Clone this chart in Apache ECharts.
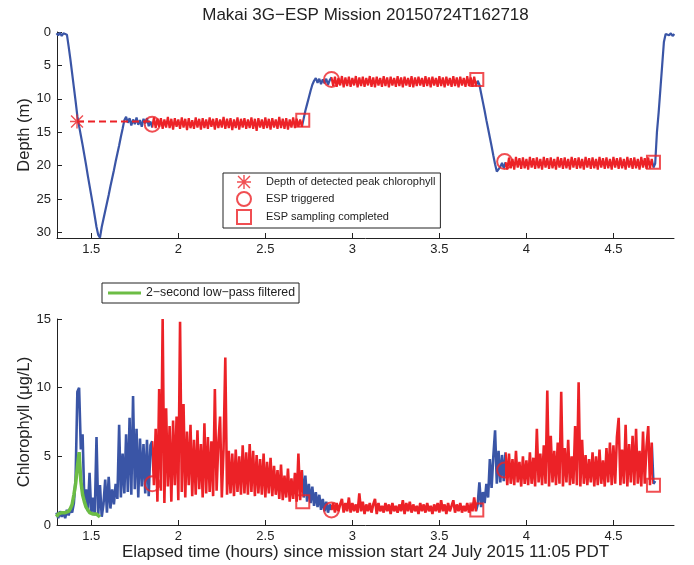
<!DOCTYPE html>
<html>
<head>
<meta charset="utf-8">
<script src="https://cdn.jsdelivr.net/npm/echarts@6/dist/echarts.min.js"></script>
<style>
  html, body { margin: 0; padding: 0; background: #fff; }
  #main { width: 694px; height: 565px; }
</style>
</head>
<body>
<div id="main"></div>
<script>
// sampling grid (hours since mission start)
const sampleStart = 1.30;
const sampleStep = 0.01;

// depth (m), one value per sample, rows of 0.1 h
const depthValues = [
  0.2, 0.5, 0.1, 0.6, 0.2, 0.4, 0.4, 2.2, 4.1, 6.2,          // 1.30
  8.3, 10.4, 12.6, 14.1, 15.5, 16.9, 18.4, 19.9, 21.5, 23.0, // 1.40
  24.5, 26.0, 27.6, 29.2, 30.4, 30.8, 29.2, 28.0, 26.8, 25.6, // 1.50
  24.4, 23.1, 21.9, 20.7, 19.4, 18.2, 17.0, 15.7, 14.5, 13.2, // 1.60
  12.7, 13.6, 12.9, 14.0, 13.1, 13.8, 12.8, 13.9, 13.2, 14.2, // 1.70
  13.0, 13.7, 12.9, 14.1, 13.4, 14.3, 12.8, 14.4, 13.0, 14.2, // 1.80
  12.9, 14.5, 13.1, 14.3, 12.7, 14.4, 13.0, 14.6, 12.9, 14.2, // 1.90
  13.1, 14.5, 12.8, 14.3, 13.0, 14.7, 12.9, 14.4, 13.2, 14.5, // 2.00
  12.8, 14.3, 13.0, 14.6, 12.9, 14.4, 13.1, 14.5, 12.8, 14.2, // 2.10
  13.0, 14.6, 12.9, 14.4, 13.1, 14.3, 12.7, 14.5, 13.0, 14.4, // 2.20
  12.9, 14.7, 13.1, 14.4, 12.8, 14.6, 13.0, 14.3, 12.9, 14.5, // 2.30
  13.1, 14.4, 12.8, 14.5, 13.0, 14.8, 12.9, 14.3, 13.1, 14.5, // 2.40
  12.8, 14.4, 13.0, 14.6, 12.9, 14.3, 13.1, 14.5, 12.7, 14.4, // 2.50
  13.0, 14.5, 12.9, 14.6, 13.1, 14.3, 12.8, 14.4, 13.0, 14.2, // 2.60
  13.1, 14.2, 13.0, 11.8, 10.8, 9.8, 8.8, 7.9, 7.3, 6.9,      // 2.70
  7.6, 7.0, 7.8, 7.1, 7.7, 7.0, 7.9, 7.2, 6.8, 8.1,          // 2.80
  6.7, 8.2, 6.9, 8.0, 6.6, 8.3, 6.8, 8.1, 6.7, 8.2,          // 2.90
  6.9, 8.0, 6.6, 8.3, 6.8, 8.1, 6.7, 8.2, 6.9, 8.0,          // 3.00
  6.6, 8.2, 6.8, 8.3, 6.7, 8.0, 6.9, 8.2, 6.6, 8.1,          // 3.10
  6.8, 8.3, 6.7, 8.0, 6.9, 8.2, 6.6, 8.1, 6.8, 8.3,          // 3.20
  6.7, 8.0, 6.9, 8.2, 6.6, 8.3, 6.8, 8.1, 6.7, 8.0,          // 3.30
  6.9, 8.2, 6.6, 8.1, 6.8, 8.3, 6.7, 8.0, 6.9, 8.2,          // 3.40
  6.6, 8.1, 6.8, 8.3, 6.7, 8.0, 6.9, 8.2, 6.6, 8.1,          // 3.50
  6.8, 8.3, 6.7, 8.0, 6.9, 8.2, 6.6, 8.1, 6.8, 8.2,          // 3.60
  6.7, 8.1, 7.3, 7.9, 9.2, 10.5, 11.8, 13.2, 14.5, 15.8,     // 3.70
  17.1, 18.5, 19.8, 20.9, 21.1, 20.2, 19.6, 20.4, 19.5, 20.6, // 3.80
  18.8, 20.4, 19.0, 20.6, 18.7, 20.3, 18.9, 20.5, 18.8, 20.4, // 3.90
  19.0, 20.6, 18.7, 20.3, 18.9, 20.5, 18.8, 20.4, 19.0, 20.6, // 4.00
  18.7, 20.3, 18.9, 20.5, 18.8, 20.4, 19.0, 20.6, 18.7, 20.3, // 4.10
  18.9, 20.5, 18.8, 20.4, 19.0, 20.6, 18.7, 20.3, 18.9, 20.5, // 4.20
  18.8, 20.4, 19.0, 20.6, 18.7, 20.3, 18.9, 20.5, 18.8, 20.4, // 4.30
  19.0, 20.6, 18.7, 20.3, 18.9, 20.5, 18.8, 20.4, 19.0, 20.6, // 4.40
  18.7, 20.3, 18.9, 20.5, 18.8, 20.4, 19.0, 20.6, 18.7, 20.3, // 4.50
  18.9, 20.5, 18.8, 20.4, 19.0, 20.6, 18.7, 20.3, 18.9, 20.5, // 4.60
  18.8, 20.4, 19.0, 20.3, 19.7, 15.0, 12.0, 8.5, 5.0, 1.5,   // 4.70
  0.3, 0.1, 0.5, 0.2, 0.6, 0.3                               // 4.80
];

// chlorophyll (ug/L), one value per sample
const chlValues = [
  0.9, 0.5, 1.0, 0.6, 0.9, 0.5, 1.1, 0.7, 1.2, 0.9,   // 1.30
  1.6, 3.4, 9.7, 10.0, 5.5, 6.6, 1.8, 2.6, 1.0, 3.8,  // 1.40
  0.8, 2.0, 0.7, 6.4, 0.8, 2.9, 0.6, 1.5, 3.3, 0.9,   // 1.50
  3.5, 1.2, 2.6, 1.5, 3.0, 1.9, 7.3, 2.0, 5.2, 2.3,   // 1.60
  6.6, 2.4, 7.8, 2.2, 9.4, 2.6, 7.0, 2.0, 6.3, 2.8,   // 1.70
  5.9, 2.3, 6.2, 2.1, 5.8, 6.1, 2.9, 7.0, 1.7, 9.9,   // 1.80
  2.5, 15.0, 1.6, 8.5, 2.8, 7.2, 1.7, 7.6, 2.9, 7.9,  // 1.90
  1.8, 14.8, 2.4, 8.8, 2.0, 6.8, 2.9, 7.3, 2.1, 6.2,  // 2.00
  2.2, 6.9, 2.6, 5.9, 2.0, 7.4, 2.3, 6.4, 2.4, 6.1,   // 2.10
  2.1, 9.9, 2.5, 6.0, 7.9, 2.0, 5.6, 12.2, 2.2, 5.4,  // 2.20
  2.3, 5.2, 2.1, 5.5, 2.4, 5.0, 2.2, 5.8, 2.3, 5.3,   // 2.30
  2.2, 5.9, 2.4, 5.4, 2.1, 5.1, 2.3, 4.8, 2.2, 5.2,   // 2.40
  2.0, 4.6, 2.3, 4.9, 2.1, 4.3, 2.2, 4.0, 1.9, 4.4,   // 2.50
  1.8, 3.6, 2.0, 4.1, 1.7, 3.4, 1.9, 3.8, 1.7, 5.2,   // 2.60
  1.8, 4.0, 2.0, 3.6, 1.7, 3.0, 1.6, 2.8, 1.4, 2.4,   // 2.70
  1.3, 2.2, 1.1, 1.9, 1.0, 1.7, 0.9, 1.5, 1.1, 1.6,   // 2.80
  0.9, 1.6, 1.0, 1.5, 1.9, 0.9, 1.6, 1.0, 2.0, 0.9,   // 2.90
  1.6, 1.0, 1.5, 0.9, 2.3, 1.0, 1.7, 0.8, 1.5, 1.0,   // 3.00
  1.6, 0.9, 1.5, 1.9, 0.8, 1.6, 1.0, 1.4, 0.9, 1.6,   // 3.10
  1.0, 1.5, 0.8, 1.6, 1.0, 1.4, 0.9, 1.5, 1.0, 1.8,   // 3.20
  0.8, 1.6, 1.0, 1.7, 0.9, 1.5, 1.0, 1.4, 0.8, 1.6,   // 3.30
  1.0, 1.5, 0.9, 1.6, 1.0, 1.4, 0.8, 1.5, 1.0, 1.6,   // 3.40
  0.9, 1.8, 1.0, 1.5, 0.8, 1.6, 1.0, 1.4, 1.8, 0.9,   // 3.50
  1.5, 1.0, 1.6, 0.9, 1.4, 1.0, 1.6, 0.9, 1.5, 1.0,   // 3.60
  2.0, 1.0, 1.5, 3.1, 1.3, 2.4, 1.6, 3.0, 2.0, 4.8,   // 3.70
  2.7, 5.0, 6.9, 3.0, 5.4, 3.1, 5.1, 3.2, 5.3, 2.9,   // 3.80
  5.2, 3.0, 4.8, 2.9, 5.4, 3.1, 4.6, 2.8, 5.0, 3.0,   // 3.90
  4.7, 2.9, 5.3, 3.0, 4.9, 2.8, 7.0, 3.1, 5.2, 2.9,   // 4.00
  5.8, 3.0, 9.8, 2.8, 6.5, 3.1, 5.4, 2.9, 6.0, 3.0,   // 4.10
  9.7, 2.8, 5.6, 3.1, 6.2, 2.9, 5.0, 3.0, 7.2, 2.9,   // 4.20
  10.4, 2.8, 6.2, 3.0, 5.1, 2.9, 4.8, 3.1, 5.3, 2.8,  // 4.30
  5.0, 2.9, 5.5, 3.0, 4.7, 2.8, 5.6, 3.1, 6.0, 2.9,   // 4.40
  5.8, 3.0, 6.4, 7.8, 2.9, 5.5, 3.0, 7.3, 2.8, 5.9,   // 4.50
  3.1, 6.5, 2.9, 7.0, 3.0, 5.4, 2.8, 6.8, 3.0, 5.7,   // 4.60
  7.2, 2.9, 6.0, 3.0, 3.2                             // 4.70
];

// 2-second low-pass filtered chlorophyll, 1.30 .. 1.55
const filteredValues = [
  0.6, 0.8, 0.7, 0.9, 0.8, 0.9, 1.0, 1.0, 1.2, 1.5,
  2.2, 3.0, 4.2, 5.3, 3.2, 2.2, 1.7, 1.3, 1.1, 0.9,
  0.9, 0.8, 0.7, 0.8, 0.7, 0.6
];

// events
const peakTime = 1.418;
const peakDepth = 13.4;
const triggerTimes = [1.85, 2.88, 3.875];
const triggerDepths = [13.8, 7.1, 19.4];
const triggerChl = [3.0, 1.1, 4.0];
const completeTimes = [2.715, 3.715, 4.73];
const completeDepths = [13.2, 7.1, 19.5];
const completeChl = [1.7, 1.1, 2.9];

// axes
const timeTicks = [1.5, 2, 2.5, 3, 3.5, 4, 4.5];
const depthTicks = [0, 5, 10, 15, 20, 25, 30];
const chlTicks = [0, 5, 10, 15];

const BLUE = "#3a55a6";
const RED = "#ec2227";
const GREEN = "#6cbd45";
const INK = "#222";
const FONT = "'Liberation Sans', Arial, Helvetica, sans-serif";

const toSeries = (vals) =>
   vals.map((v, i) => [+(sampleStart + i * sampleStep).toFixed(2), v]);

const asterisk =
   "path://M45 0L55 0L55 100L45 100Z M0 45L100 45L100 55L0 55Z " +
   "M11 4L96 89L89 96L4 11Z M89 4L96 11L11 96L4 89Z";

const pieces = triggerTimes.map((t, i) => ({
   gte: t,
   lte: completeTimes[i],
   color: RED,
}));

const timeAxis = (extra) =>
   Object.assign(
      {
         type: "value",
         position: "bottom",
         min: 1.303,
         max: 4.848,
         axisLine: { show: true, onZero: false, lineStyle: { color: INK, width: 1 } },
         axisTick: { show: true, inside: true, length: 5, customValues: timeTicks, lineStyle: { color: INK } },
         axisLabel: { customValues: timeTicks, margin: 5, fontSize: 13, color: INK, fontFamily: FONT },
         splitLine: { show: false },
      },
      extra
   );

const valueAxis = (ticks, extra) =>
   Object.assign(
      {
         type: "value",
         nameLocation: "middle",
         nameGap: 24,
         nameMoveOverlap: false,
         nameTextStyle: { fontSize: 16.5, color: INK, fontFamily: FONT },
         axisLine: { show: true, onZero: false, lineStyle: { color: INK, width: 1 } },
         axisTick: { show: true, inside: true, length: 5, customValues: ticks, lineStyle: { color: INK } },
         axisLabel: { customValues: ticks, margin: 6, fontSize: 13, color: INK, fontFamily: FONT },
         splitLine: { show: false },
      },
      extra
   );

const hollow = (color) => ({ color: "rgba(0,0,0,0)", borderColor: color, borderWidth: 2 });

const option = {
   animation: false,
   backgroundColor: "#fff",
   textStyle: { fontFamily: FONT },
   graphic: [
      {
         type: "text",
         x: 365.5,
         y: 15,
         style: {
            text: "Makai 3G\u2212ESP Mission 20150724T162718",
            fontSize: 17,
            fontFamily: FONT,
            fill: INK,
            align: "center",
            verticalAlign: "middle",
            textAlign: "center",
            textVerticalAlign: "middle",
         },
      },
   ],
   grid: [
      { left: 57, top: 32, width: 617, height: 206 },
      { left: 57, top: 319, width: 617, height: 206 },
   ],
   xAxis: [
      timeAxis({ gridIndex: 0 }),
      timeAxis({
         gridIndex: 1,
         name: "Elapsed time (hours) since mission start 24 July 2015 11:05 PDT",
         nameLocation: "middle",
         nameGap: 19,
         nameMoveOverlap: false,
         nameTextStyle: { fontSize: 17, color: INK, fontFamily: FONT },
      }),
   ],
   yAxis: [
      valueAxis(depthTicks, { gridIndex: 0, inverse: true, min: 0, max: 30.85, name: "Depth (m)" }),
      valueAxis(chlTicks, { gridIndex: 1, min: 0, max: 15, name: "Chlorophyll (\u03bcg/L)" }),
   ],
   visualMap: {
      type: "piecewise",
      show: false,
      dimension: 0,
      seriesIndex: [0, 1],
      pieces: pieces,
      outOfRange: { color: BLUE },
   },
   legend: [
      {
         data: ["Depth of detected peak chlorophyll", "ESP triggered", "ESP sampling completed"],
         orient: "vertical",
         left: 223,
         top: 173,
         itemWidth: 14,
         itemHeight: 14,
         itemGap: 2,
         symbolKeepAspect: true,
         padding: [2, 5, 3, 13],
         borderColor: INK,
         borderWidth: 1,
         borderRadius: 0,
         backgroundColor: "#fff",
         selectedMode: false,
         textStyle: { fontSize: 11, color: INK, fontFamily: FONT, padding: [0, 0, 0, 10] },
      },
      {
         data: [{ name: "2\u2212second low\u2212pass filtered", icon: "rect" }],
         orient: "vertical",
         left: 102,
         top: 283,
         itemWidth: 33,
         itemHeight: 3,
         padding: [3, 4, 3, 6],
         borderColor: INK,
         borderWidth: 1,
         borderRadius: 0,
         backgroundColor: "#fff",
         selectedMode: false,
         textStyle: { fontSize: 12.3, color: INK, fontFamily: FONT, lineHeight: 14 },
      },
   ],
   series: [
      {
         type: "line",
         xAxisIndex: 0,
         yAxisIndex: 0,
         data: toSeries(depthValues),
         symbol: "none",
         lineStyle: { width: 2.2 },
         z: 2,
      },
      {
         type: "line",
         xAxisIndex: 1,
         yAxisIndex: 1,
         data: toSeries(chlValues),
         symbol: "none",
         lineStyle: { width: 2.6 },
         z: 2,
      },
      {
         name: "2\u2212second low\u2212pass filtered",
         type: "line",
         xAxisIndex: 1,
         yAxisIndex: 1,
         data: toSeries(filteredValues),
         symbol: "none",
         color: GREEN,
         itemStyle: { color: GREEN },
         lineStyle: { width: 3.5, color: GREEN },
         z: 3,
      },
      {
         type: "line",
         xAxisIndex: 0,
         yAxisIndex: 0,
         data: [
            [peakTime, peakDepth],
            [triggerTimes[0], peakDepth],
         ],
         symbol: "none",
         lineStyle: { width: 2, color: RED, type: [7, 4] },
         z: 4,
      },
      {
         name: "Depth of detected peak chlorophyll",
         type: "scatter",
         xAxisIndex: 0,
         yAxisIndex: 0,
         data: [[peakTime, peakDepth]],
         symbol: asterisk,
         symbolSize: 14,
         symbolKeepAspect: true,
         itemStyle: { color: RED },
         z: 5,
      },
      {
         name: "ESP triggered",
         type: "scatter",
         xAxisIndex: 0,
         yAxisIndex: 0,
         data: triggerTimes.map((t, i) => [t, triggerDepths[i]]),
         symbol: "circle",
         symbolSize: 15,
         symbolKeepAspect: true,
         itemStyle: hollow(RED),
         z: 5,
      },
      {
         name: "ESP sampling completed",
         type: "scatter",
         xAxisIndex: 0,
         yAxisIndex: 0,
         data: completeTimes.map((t, i) => [t, completeDepths[i]]),
         symbol: "rect",
         symbolSize: 13,
         symbolKeepAspect: true,
         itemStyle: hollow(RED),
         z: 5,
      },
      {
         name: "ESP triggered",
         type: "scatter",
         xAxisIndex: 1,
         yAxisIndex: 1,
         data: triggerTimes.map((t, i) => [t, triggerChl[i]]),
         symbol: "circle",
         symbolSize: 15,
         itemStyle: hollow(RED),
         z: 5,
      },
      {
         name: "ESP sampling completed",
         type: "scatter",
         xAxisIndex: 1,
         yAxisIndex: 1,
         data: completeTimes.map((t, i) => [t, completeChl[i]]),
         symbol: "rect",
         symbolSize: 13,
         itemStyle: hollow(RED),
         z: 5,
      },
   ],
};

const myChart = echarts.init(document.getElementById("main"), null, { renderer: "canvas" });
myChart.setOption(option);
</script>
</body>
</html>
